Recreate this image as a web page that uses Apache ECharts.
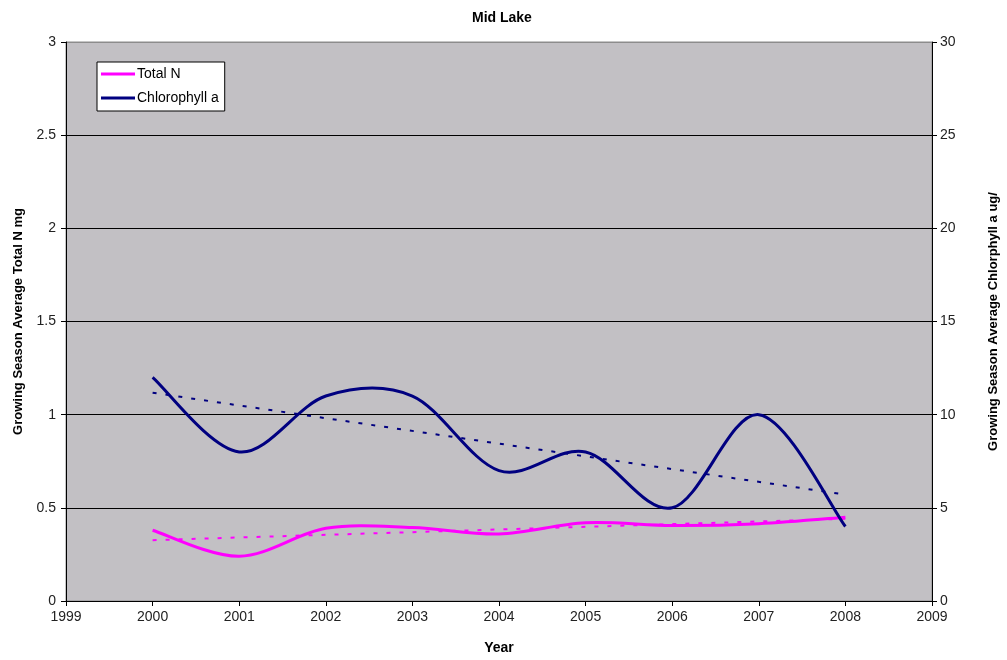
<!DOCTYPE html>
<html>
<head>
<meta charset="utf-8">
<style>
  html, body { margin: 0; padding: 0; background: #ffffff; }
  #chart { width: 1007px; height: 660px; }
</style>
<script src="https://cdn.jsdelivr.net/npm/echarts@6/dist/echarts.min.js"></script>
</head>
<body>
<div id="chart"></div>
<script>
// Growing-season averages for Mid Lake
const years = [2000, 2001, 2002, 2003, 2004, 2005, 2006, 2007, 2008];
const totalN = [0.38, 0.24, 0.39, 0.395, 0.36, 0.42, 0.405, 0.415, 0.45];   // mg/L
const chlorophyll = [12, 8, 11, 11, 7, 8, 5, 10, 4];                          // ug/L
const leftTicks = [0, 0.5, 1, 1.5, 2, 2.5, 3];
const rightTicks = [0, 5, 10, 15, 20, 25, 30];

// Least-squares linear trend across the yearly values
function linearTrend(xs, ys) {
  const n = xs.length;
  const mx = xs.reduce((a, b) => a + b, 0) / n;
  const my = ys.reduce((a, b) => a + b, 0) / n;
  let sxy = 0, sxx = 0;
  for (let i = 0; i < n; i++) {
    sxy += (xs[i] - mx) * (ys[i] - my);
    sxx += (xs[i] - mx) * (xs[i] - mx);
  }
  const slope = sxy / sxx;
  const x0 = xs[0], x1 = xs[n - 1];
  return [[x0, my + slope * (x0 - mx)], [x1, my + slope * (x1 - mx)]];
}

const pairs = (xs, ys) => xs.map((x, i) => [x, ys[i]]);

const FONT = 'Liberation Sans, Arial, sans-serif';
const MAGENTA = '#ff00ff';
const NAVY = '#000080';

// Smoothed line drawn as a Catmull-Rom style Bezier through the
// axis-mapped data points (curve may swing slightly past the points).
function smoothLineSeries(name, yAxisIndex, xs, ys, color) {
  return {
    name: name,
    type: 'custom',
    coordinateSystem: 'cartesian2d',
    yAxisIndex: yAxisIndex,
    data: pairs(xs, ys),
    encode: { x: 0, y: 1 },
    silent: true,
    z: 3,
    itemStyle: { color: color },
    renderItem: function (params, api) {
      if (params.dataIndex !== 0) return null;
      const pts = xs.map((x, i) => api.coord([x, ys[i]]));
      const last = pts.length - 1;
      let d = 'M' + pts[0][0] + ',' + pts[0][1];
      for (let i = 0; i < last; i++) {
        const p0 = pts[Math.max(i - 1, 0)];
        const p1 = pts[i];
        const p2 = pts[i + 1];
        const p3 = pts[Math.min(i + 2, last)];
        const c1x = p1[0] + (p2[0] - p0[0]) / 6;
        const c1y = p1[1] + (p2[1] - p0[1]) / 6;
        const c2x = p2[0] - (p3[0] - p1[0]) / 6;
        const c2y = p2[1] - (p3[1] - p1[1]) / 6;
        d += ' C' + c1x + ',' + c1y + ',' + c2x + ',' + c2y + ',' + p2[0] + ',' + p2[1];
      }
      return {
        type: 'path',
        shape: { pathData: d },
        style: { stroke: color, lineWidth: 3, fill: 'none', lineJoin: 'round' }
      };
    }
  };
}

const chart = echarts.init(document.getElementById('chart'), null, { renderer: 'canvas' });

const gridColors = leftTicks.map((t, i) => i === leftTicks.length - 1 ? '#8c8c8c' : '#000000');

chart.setOption({
  animation: false,
  backgroundColor: '#ffffff',
  textStyle: { fontFamily: FONT },
  title: {
    text: 'Mid Lake',
    left: 467,
    top: 6,
    textStyle: { fontFamily: FONT, fontSize: 14, fontWeight: 'bold', color: '#000' }
  },
  legend: {
    orient: 'vertical',
    left: 97,
    top: 62,
    backgroundColor: '#ffffff',
    borderColor: '#000000',
    borderWidth: 1,
    borderRadius: 0,
    padding: [5, 6, 6, 4],
    itemGap: 10,
    itemWidth: 34,
    itemHeight: 3,
    icon: 'rect',
    data: [
      { name: 'Total N', itemStyle: { color: MAGENTA } },
      { name: 'Chlorophyll a', itemStyle: { color: NAVY } }
    ],
    textStyle: { fontFamily: FONT, fontSize: 14, color: '#000', padding: [0, 0, 0, -3] }
  },
  grid: {
    left: 66, right: 75, top: 42, bottom: 59,
    outerBoundsMode: 'none',
    show: true,
    backgroundColor: '#c2c0c4',
    borderColor: '#8c8c8c',
    borderWidth: 1
  },
  xAxis: {
    type: 'value',
    min: 1999, max: 2009, interval: 1,
    name: 'Year',
    nameLocation: 'middle',
    nameGap: 40,
    nameTextStyle: { fontFamily: FONT, fontSize: 14, fontWeight: 'bold', color: '#000' },
    axisLine: { show: true, lineStyle: { color: '#000', width: 1 } },
    axisTick: { show: true, length: 5, lineStyle: { color: '#000' } },
    axisLabel: { fontFamily: FONT, fontSize: 14, color: '#222', margin: 9, formatter: v => String(v) },
    splitLine: { show: false }
  },
  yAxis: [
    {
      type: 'value',
      position: 'left',
      min: 0, max: 3, interval: 0.5,
      name: 'Growing Season Average Total N mg',
      nameLocation: 'middle',
      nameRotate: 90,
      nameGap: 41,
      nameTextStyle: { fontFamily: FONT, fontSize: 13, fontWeight: 'bold', color: '#000' },
      axisLine: { show: true, lineStyle: { color: '#000', width: 1 } },
      axisTick: { show: true, length: 5, lineStyle: { color: '#000' } },
      axisLabel: { fontFamily: FONT, fontSize: 14, color: '#222', margin: 10 },
      splitLine: { show: true, lineStyle: { color: gridColors, width: 1 } }
    },
    {
      type: 'value',
      position: 'right',
      min: 0, max: 30, interval: 5,
      name: 'Growing Season Average Chlorphyll a ug/',
      nameLocation: 'middle',
      nameRotate: 90,
      nameGap: 55,
      nameTextStyle: { fontFamily: FONT, fontSize: 13, fontWeight: 'bold', color: '#000' },
      axisLine: { show: true, lineStyle: { color: '#000', width: 1 } },
      axisTick: { show: true, length: 5, lineStyle: { color: '#000' } },
      axisLabel: { fontFamily: FONT, fontSize: 14, color: '#222', margin: 8 },
      splitLine: { show: false }
    }
  ],
  series: [
    {
      name: 'Total N trend',
      type: 'line',
      yAxisIndex: 0,
      data: linearTrend(years, totalN),
      showSymbol: false,
      silent: true,
      lineStyle: { color: MAGENTA, width: 2, type: [4, 9] },
      z: 2
    },
    {
      name: 'Chlorophyll a trend',
      type: 'line',
      yAxisIndex: 1,
      data: linearTrend(years, chlorophyll),
      showSymbol: false,
      silent: true,
      lineStyle: { color: NAVY, width: 2, type: [4, 9] },
      z: 2
    },
    smoothLineSeries('Total N', 0, years, totalN, MAGENTA),
    smoothLineSeries('Chlorophyll a', 1, years, chlorophyll, NAVY)
  ]
});
</script>
</body>
</html>
